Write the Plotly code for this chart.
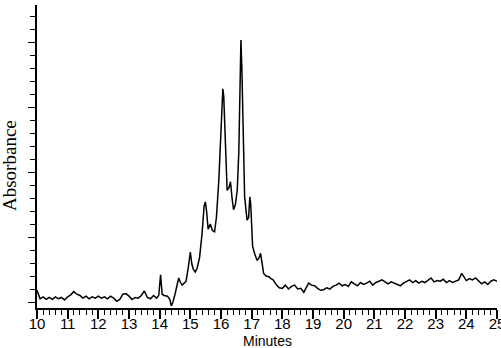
import plotly.graph_objects as go

# Retention time (minutes) and absorbance (arbitrary units)
minutes = [
    10.0, 10.05, 10.1, 10.2, 10.3, 10.4, 10.5, 10.6, 10.7, 10.8, 10.9,
    11.0, 11.1, 11.2, 11.3, 11.4, 11.5, 11.6, 11.7, 11.8, 11.9,
    12.0, 12.1, 12.2, 12.3, 12.4, 12.5, 12.6, 12.7, 12.8, 12.9,
    13.0, 13.1, 13.2, 13.3, 13.4, 13.5, 13.6, 13.7, 13.8, 13.9, 13.97,
    14.03, 14.08, 14.15, 14.25, 14.33, 14.38, 14.42, 14.5, 14.57, 14.62,
    14.68, 14.73, 14.8, 14.86, 14.93, 15.0, 15.05, 15.1, 15.16, 15.22,
    15.3, 15.38, 15.45, 15.49, 15.53, 15.58, 15.65, 15.72, 15.79, 15.85,
    15.93, 16.0, 16.06, 16.09, 16.14, 16.2, 16.26, 16.31, 16.36, 16.41,
    16.47, 16.53, 16.58, 16.62, 16.65, 16.68, 16.71, 16.74, 16.77, 16.81,
    16.85, 16.9, 16.94, 16.97, 17.0, 17.03, 17.1, 17.18, 17.24, 17.29,
    17.34, 17.39, 17.47, 17.56, 17.63, 17.7, 17.8, 17.9, 18.0, 18.1,
    18.2, 18.3, 18.4, 18.5, 18.6, 18.7, 18.8, 18.86, 18.95, 19.05,
    19.15, 19.25, 19.35, 19.45, 19.55, 19.65, 19.75, 19.85, 19.95, 20.05,
    20.15, 20.25, 20.35, 20.45, 20.55, 20.65, 20.75, 20.85, 20.95, 21.05,
    21.15, 21.25, 21.35, 21.45, 21.55, 21.65, 21.75, 21.85, 21.95, 22.05,
    22.15, 22.25, 22.35, 22.45, 22.55, 22.65, 22.75, 22.85, 22.95, 23.05,
    23.15, 23.25, 23.35, 23.45, 23.55, 23.65, 23.75, 23.85, 23.92, 24.0,
    24.1, 24.2, 24.3, 24.4, 24.5, 24.6, 24.7, 24.8, 24.9, 25.0,
]
absorbance = [
    0.9, 0.5, 0.25, 0.4, 0.2, 0.35, 0.2, 0.4, 0.25, 0.35, 0.15,
    0.4, 0.55, 0.8, 0.6, 0.5, 0.3, 0.45, 0.25, 0.4, 0.3,
    0.45, 0.3, 0.4, 0.25, 0.45, 0.3, 0.05, 0.2, 0.6, 0.65,
    0.45, 0.2, 0.35, 0.3, 0.5, 0.85, 0.35, 0.25, 0.5, 0.3, 0.5,
    2.1, 0.6, 0.5, 0.45, 0.2, -0.3, -0.1, 0.6, 1.4, 1.85,
    1.5, 1.3, 1.45, 1.6, 2.6, 3.85, 2.9, 2.5, 2.3, 2.6,
    3.4, 5.2, 7.4, 7.7, 7.0, 5.6, 6.0, 5.5, 5.4, 6.5,
    9.4, 13.0, 16.4, 15.8, 12.0, 8.6, 8.8, 9.25, 8.0, 7.1,
    7.5, 8.6, 11.5, 15.5, 20.15, 18.0, 15.5, 11.5, 8.1, 7.0,
    6.3, 6.5, 8.1, 7.5, 5.8, 4.3, 3.7, 3.2, 3.4, 3.75,
    3.0, 2.2, 2.0, 1.95, 1.8, 1.7, 1.35, 1.1, 1.05, 1.3,
    1.0, 1.2, 1.3, 1.0, 1.05, 0.75, 1.2, 1.45, 1.3, 1.25,
    1.05, 0.9, 0.95, 1.1, 1.0, 1.2, 1.3, 1.45, 1.25, 1.35,
    1.2, 1.55, 1.4, 1.25, 1.5, 1.35, 1.45, 1.6, 1.3, 1.5,
    1.6, 1.7, 1.55, 1.4, 1.55, 1.45, 1.35, 1.25, 1.45, 1.6,
    1.7, 1.5, 1.65, 1.45, 1.6, 1.5, 1.7, 1.85, 1.55, 1.65,
    1.6, 1.75, 1.5, 1.65, 1.5, 1.6, 1.7, 2.2, 1.9, 1.65,
    1.8, 1.7, 1.85, 1.6, 1.4, 1.55, 1.35, 1.6, 1.7, 1.6,
]
x_tickvals = list(range(10, 26))
x_ticktext = [str(v) for v in x_tickvals]

fig = go.Figure()
fig.add_trace(go.Scatter(
    x=minutes, y=absorbance, mode="lines",
    line=dict(color="black", width=1.5), showlegend=False,
))

fig.update_layout(
    width=501, height=348,
    margin=dict(l=37, r=4, t=5, b=40),
    paper_bgcolor="white", plot_bgcolor="white",
    font=dict(family="Liberation Sans, Arial", color="black"),
    xaxis=dict(
        range=[10, 25], showline=True, linecolor="black", linewidth=1.5,
        showgrid=False, zeroline=False, automargin=False,
        tickmode="array", tickvals=x_tickvals, ticktext=x_ticktext,
        ticks="outside", ticklen=9, tickwidth=1.5, tickcolor="black",
        ticklabeloverflow="allow", ticklabelstandoff=-8,
        tickfont=dict(size=15, family="Liberation Sans, Arial", color="black"),
        minor=dict(dtick=0.2, ticks="outside", ticklen=5, tickwidth=1, tickcolor="black", showgrid=False),
    ),
    yaxis=dict(
        range=[-0.46, 22.85], showline=True, linecolor="black", linewidth=1.5,
        showgrid=False, zeroline=False, showticklabels=False, automargin=False,
        tickmode="linear", tick0=0, dtick=5,
        ticks="outside", ticklen=7, tickwidth=1.2, tickcolor="black",
        minor=dict(dtick=1, ticks="outside", ticklen=5, tickwidth=1, tickcolor="black", showgrid=False),
    ),
    annotations=[
        dict(text="Absorbance", xref="paper", yref="paper",
             x=(9 - 37) / 460, y=(308 - 166) / 303, xanchor="center", yanchor="middle",
             textangle=-90, showarrow=False,
             font=dict(family="Liberation Serif, Times New Roman", size=19, color="black")),
        dict(text="Minutes", xref="paper", yref="paper",
             x=0.5, y=(308 - 331.5) / 303, xanchor="center", yanchor="top",
             showarrow=False, borderpad=0,
             font=dict(family="Liberation Sans, Arial", size=14, color="black")),
    ],
)

fig.write_html("out.html")
